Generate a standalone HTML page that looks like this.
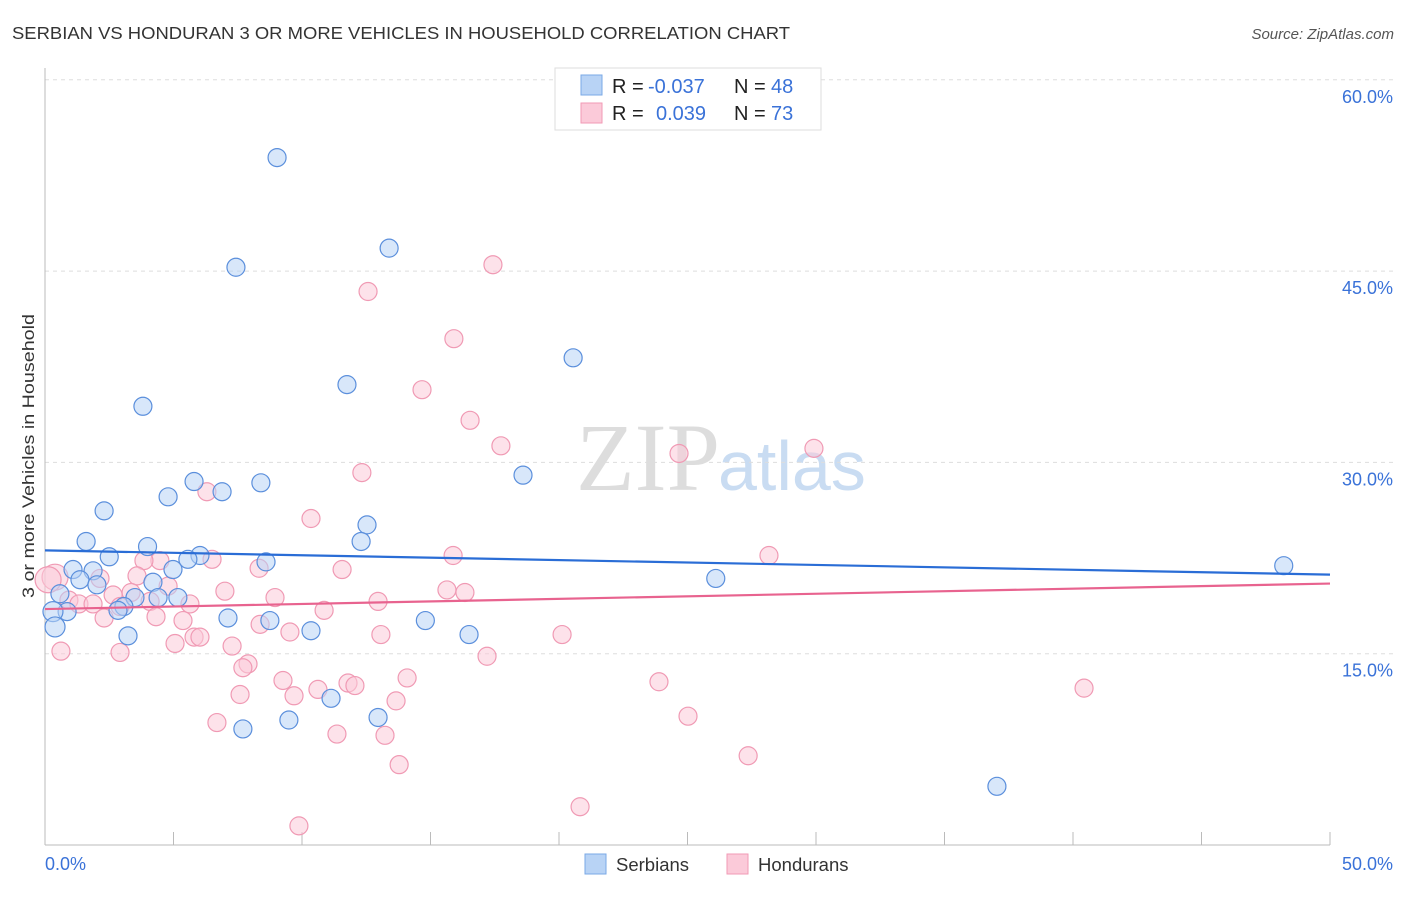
<!DOCTYPE html>
<html><head><meta charset="utf-8"><style>
body{margin:0;background:#fff;font-family:"Liberation Sans",sans-serif}
</style></head><body>
<svg width="1406" height="892" xmlns="http://www.w3.org/2000/svg" id="chart" font-family="Liberation Sans, sans-serif">
<text x="12" y="39" font-size="17.5" fill="#333" textLength="778" lengthAdjust="spacingAndGlyphs">SERBIAN VS HONDURAN 3 OR MORE VEHICLES IN HOUSEHOLD CORRELATION CHART</text>
<text x="1394" y="39" font-size="15" fill="#555" text-anchor="end" font-style="italic">Source: ZipAtlas.com</text>
<text x="720" y="490" font-size="96" text-anchor="end" fill="#ddd" font-family="Liberation Serif, serif">ZIP</text>
<text x="718" y="490" font-size="70" fill="#c9dcf2">atlas</text>
<text transform="translate(34,456) rotate(-90)" font-size="17" fill="#333" text-anchor="middle" textLength="284" lengthAdjust="spacingAndGlyphs">3 or more Vehicles in Household</text>
<g id="grid"></g><g id="axes"></g><g id="pts"></g><g id="trend"></g>
<g font-size="20">
<rect x="555" y="68" width="266" height="62" fill="#fff" stroke="#ddd"/>
<rect x="581" y="75" width="21" height="20" fill="#b8d3f5" stroke="#7aa8e6"/>
<rect x="581" y="103" width="21" height="20" fill="#fbcad9" stroke="#f29ab5"/>
<text x="612" y="93" fill="#222">R =</text><text x="648" y="93" fill="#3a72d8">-0.037</text>
<text x="734" y="93" fill="#222">N =</text><text x="771" y="93" fill="#3a72d8">48</text>
<text x="612" y="120" fill="#222">R =</text><text x="656" y="120" fill="#3a72d8">0.039</text>
<text x="734" y="120" fill="#222">N =</text><text x="771" y="120" fill="#3a72d8">73</text>
</g>
<g>
<rect x="585" y="854" width="21" height="20" fill="#b8d3f5" stroke="#7aa8e6"/>
<text x="616" y="871" font-size="18.5" fill="#333">Serbians</text>
<rect x="727" y="854" width="21" height="20" fill="#fbcad9" stroke="#f29ab5"/>
<text x="758" y="871" font-size="18.5" fill="#333">Hondurans</text>
</g>
</svg>
<script>
const yTicks=[15,30,45,60];
const yTickLabels=["15.0%","30.0%","45.0%","60.0%"];
const xTickVals=[0,5,10,15,20,25,30,35,40,45,50];
const serbX=[9.03,13.39,7.43,20.55,11.75,3.81,18.6,5.8,8.4,4.79,6.89,2.3,12.53,12.3,1.6,3.99,2.5,6.03,5.56,8.6,1.09,1.87,4.98,26.1,1.36,4.2,2.02,48.2,0.58,3.5,5.17,4.4,3.07,2.84,0.86,0.31,7.12,8.75,14.8,0.39,10.35,16.5,3.23,11.13,12.96,9.49,7.7,37.04];
const serbY=[53.9,46.8,45.3,38.2,36.1,34.4,29.0,28.5,28.4,27.3,27.7,26.2,25.1,23.8,23.8,23.4,22.6,22.7,22.4,22.2,21.6,21.5,21.6,20.9,20.8,20.6,20.4,21.9,19.7,19.4,19.4,19.4,18.7,18.4,18.3,18.3,17.8,17.6,17.6,17.1,16.8,16.5,16.4,11.5,10.0,9.8,9.1,4.6];
const hondX=[17.43,12.57,15.91,14.67,16.54,17.74,24.67,29.92,12.33,6.3,10.35,28.17,15.88,4.47,3.85,6.5,11.56,8.33,0.39,0.12,3.58,2.14,4.79,7.0,15.64,16.34,3.35,2.65,8.95,4.09,0.93,1.32,1.87,5.64,12.96,2.92,10.86,4.32,2.3,5.37,8.37,20.12,13.07,9.53,5.8,6.03,5.06,7.28,0.62,2.92,17.2,7.9,7.7,14.09,9.26,11.79,12.06,23.89,10.62,40.43,7.59,9.69,13.66,25.02,6.69,11.36,13.23,27.36,13.78,20.82,9.88];
const hondY=[45.5,43.4,39.7,35.7,33.3,31.3,30.7,31.1,29.2,27.7,25.6,22.7,22.7,22.3,22.3,22.4,21.6,21.7,21.0,20.8,21.1,20.9,20.3,19.9,20.0,19.8,19.8,19.6,19.4,19.1,19.2,18.9,18.9,18.9,19.1,18.7,18.4,17.9,17.8,17.6,17.3,16.5,16.5,16.7,16.3,16.3,15.8,15.6,15.2,15.1,14.8,14.2,13.9,13.1,12.9,12.7,12.5,12.8,12.2,12.3,11.8,11.7,11.3,10.1,9.6,8.7,8.6,7.0,6.3,3.0,1.5];
const serbTrend=[23.1,21.2];
const hondTrend=[18.5,20.5];
const NS="http://www.w3.org/2000/svg";
const X=v=>45+v/50*1285, Y=v=>845-v/15*191.3;
function mk(t,a,p){const e=document.createElementNS(NS,t);for(const k in a)e.setAttribute(k,a[k]);document.getElementById(p).appendChild(e);return e;}
yTicks.forEach((t,i)=>{
 const l=mk('line',{x1:45,x2:1394,y1:Y(t),y2:Y(t),stroke:'#ddd','stroke-dasharray':'4,4'},'grid');
 
 
 const tx=mk('text',{x:1393,y:Y(t)+23,'font-size':18,fill:'#3a72d8','text-anchor':'end'},'grid');
 tx.textContent=yTickLabels[i];
 
 
});
const ax=mk('line',{x1:45,x2:45,y1:68,y2:845,stroke:'#bbb'},'axes');


const bx=mk('line',{x1:45,x2:1330,y1:845,y2:845,stroke:'#bbb'},'axes');


xTickVals.forEach(v=>{
 const t=mk('line',{x1:X(v),x2:X(v),y1:832,y2:845,stroke:'#bbb'},'axes');
 
 
});
[[0,"0.0%",45,'start'],[50,"50.0%",1393,'end']].forEach(a=>{
 const t=mk('text',{x:a[2],y:870,'font-size':18,fill:'#3a72d8','text-anchor':a[3]},'axes');
 t.textContent=a[1];
 
 
});
function pts(xs,ys,f,s,name,bigR){xs.forEach((x,i)=>{
 const big=x<0.5;
 const c=mk('circle',{cx:X(x),cy:Y(ys[i]),r:big?bigR:9,fill:f,'fill-opacity':0.55,stroke:s,'stroke-width':1.2},'pts');
 
 
});}
pts(hondX,hondY,'#fbcad9','#f09ab4','honduran-point',13);
pts(serbX,serbY,'#b8d3f5','#5b8fdc','serbian-point',10);
const l1=mk('line',{x1:X(0),x2:X(50),y1:Y(serbTrend[0]),y2:Y(serbTrend[1]),stroke:'#2a6dd6','stroke-width':2.2},'trend');


const l2=mk('line',{x1:X(0),x2:X(50),y1:Y(hondTrend[0]),y2:Y(hondTrend[1]),stroke:'#e8638f','stroke-width':2.2},'trend');


</script>
</body></html>
